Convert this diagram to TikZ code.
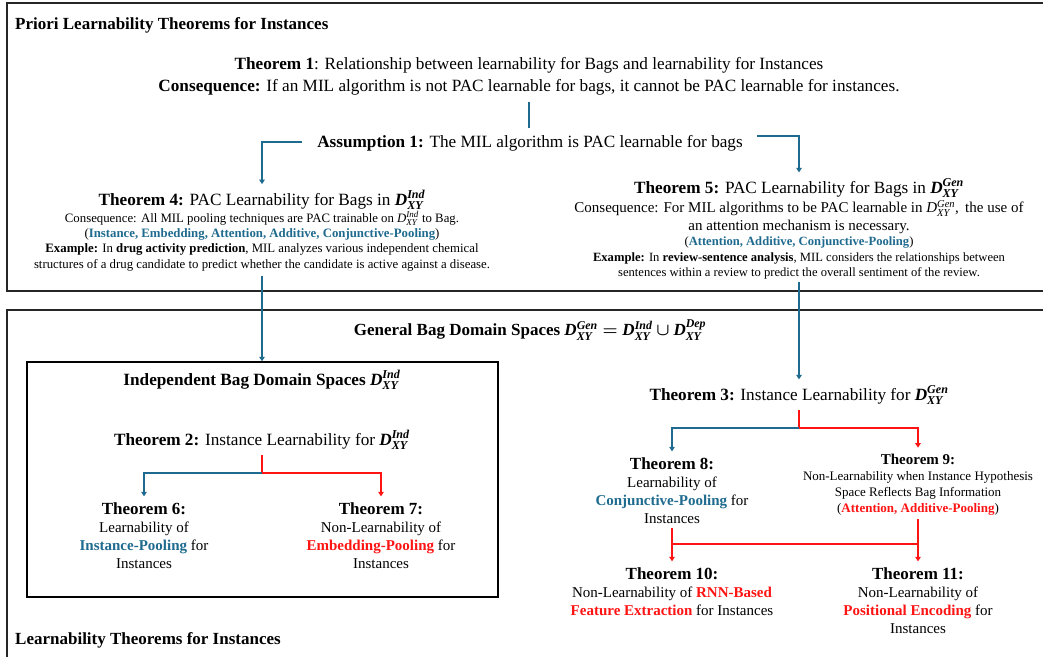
\documentclass[tikz,border=0pt]{standalone}
\usepackage{amsmath}
\usepackage{fontspec}
\setmainfont{Liberation Serif}
\usetikzlibrary{arrows.meta}
\definecolor{mblue}{HTML}{1F6B8F}
\definecolor{mred}{HTML}{FF1414}
\newcommand{\Db}[1]{$\textbf{\textit{D}}^{\textbf{\textit{#1}}}_{\textbf{\textit{XY}}}$}
\newcommand{\Dn}[1]{$\textit{D}^{\textit{#1}}_{\textit{XY}}$}
\begin{document}
\begin{tikzpicture}[x=1pt,y=-1pt,
  frame/.style={line width=1.6pt,draw=black!85},
  con/.style={line width=1.5pt},
  arr/.style={-{Triangle[width=5.5pt,length=4.5pt]}},
  txt/.style={align=center,inner sep=1pt},
  f165/.style={font=\fontsize{17.2}{22}\selectfont},
  sect/.style={font=\fontsize{17}{18}\selectfont\bfseries,anchor=west,inner sep=0pt},
  thm/.style={txt,font=\fontsize{15}{18}\selectfont},
]
\clip (0,0) rectangle (1043,656);
\fill[white] (0,0) rectangle (1043,656);
\draw[frame] (7,3) rectangle (1070,291);
\draw[frame] (7,310) rectangle (1070,690);

% top section
\node[sect] (sec1) at (15,25) {Priori Learnability Theorems for Instances};
\node[txt,f165] (t1) at (529,76) {\textbf{Theorem 1}: Relationship between learnability for Bags and learnability for Instances\\
\textbf{Consequence:} If an MIL algorithm is not PAC learnable for bags, it cannot be PAC learnable for instances.};
\node[txt,f165] (a1) at (530,143) {\textbf{Assumption 1:} The MIL algorithm is PAC learnable for bags};
\draw[con,mblue,shorten <=6pt,shorten >=6pt] (t1.south) -- (t1.south |- a1.north);

\node[txt,f165] (t4) at (262,200) {\textbf{Theorem 4:} PAC Learnability for Bags in \Db{Ind}};
\node[txt,font=\fontsize{12.8}{15.3}\selectfont] (t4b) at (262,241) {Consequence: All MIL pooling techniques are PAC trainable on \Dn{Ind} to Bag.\\
(\textcolor{mblue}{\textbf{Instance, Embedding, Attention, Additive, Conjunctive-Pooling}})\\
\textbf{Example:} In \textbf{drug activity prediction}, MIL analyzes various independent chemical\\
structures of a drug candidate to predict whether the candidate is active against a disease.};

\node[txt,f165] (t5) at (799,188) {\textbf{Theorem 5:} PAC Learnability for Bags in \Db{Gen}};
\node[txt,font=\fontsize{15}{18}\selectfont] (t5c) at (799,217) {Consequence: For MIL algorithms to be PAC learnable in \Dn{Gen},\, the use of\\
an attention mechanism is necessary.};
\node[txt,font=\fontsize{12.6}{15.5}\selectfont] (t5b) at (799,258) {(\textcolor{mblue}{\textbf{Attention, Additive, Conjunctive-Pooling}})\\
\textbf{Example:} In \textbf{review-sentence analysis}, MIL considers the relationships between\\
sentences within a review to predict the overall sentiment of the review.};

\draw[con,mblue,arr,shorten >=5pt] ([xshift=-14pt,yshift=1pt]a1.west) -| (t4.north);
\draw[con,mblue,arr,shorten >=5pt] ([shift={(13,-7)}]a1.east) -| (t5.north);

% bottom section
\node[txt,font=\fontsize{17}{20}\selectfont\bfseries] (gen) at (530,330) {General Bag Domain Spaces $\textbf{\textit{D}}^{\textbf{\textit{Gen}}}_{\textbf{\textit{XY}}}\boldsymbol{=}\textbf{\textit{D}}^{\textbf{\textit{Ind}}}_{\textbf{\textit{XY}}}\boldsymbol{\cup}\textbf{\textit{D}}^{\textbf{\textit{Dep}}}_{\textbf{\textit{XY}}}$};
\node[draw,line width=1.5pt,minimum width=471pt,minimum height=235pt,inner sep=0pt] (ind) at (262.5,479.5) {};
\node[txt,font=\fontsize{17.2}{20}\selectfont\bfseries] (indt) at (262,380) {Independent Bag Domain Spaces \Db{Ind}};
\draw[con,mblue,arr,shorten <=4pt] (t4b.south) -- (t4b.south |- ind.north);

\node[txt,f165] (t2) at (262,440) {\textbf{Theorem 2:} Instance Learnability for \Db{Ind}};
\coordinate (b2) at (262,473);
\node[thm] (t6) at (144,535.5) {{\fontsize{17}{18}\selectfont\bfseries Theorem 6:}\\Learnability of\\\textcolor{mblue}{\textbf{Instance-Pooling}} for\\Instances};
\node[thm] (t7) at (381,535.5) {{\fontsize{17}{18}\selectfont\bfseries Theorem 7:}\\Non-Learnability of\\\textcolor{mred}{\textbf{Embedding-Pooling}} for\\Instances};
\draw[con,mred,shorten <=4pt] (t2.south) -- (b2);
\draw[con,mblue,arr,shorten >=5pt] (b2) -| (t6.north);
\draw[con,mred,arr,shorten >=5pt] (b2) -| (t7.north);

\node[txt,f165] (t3) at (799,395) {\textbf{Theorem 3:} Instance Learnability for \Db{Gen}};
\draw[con,mblue,arr,shorten <=2pt,shorten >=5pt] (t5b.south) -- (t5b.south |- t3.north);
\coordinate (b3) at (799,428);
\node[thm] (t8) at (672,490.5) {{\fontsize{17}{18}\selectfont\bfseries Theorem 8:}\\Learnability of\\\textcolor{mblue}{\textbf{Conjunctive-Pooling}} for\\Instances};
\node[txt,font=\fontsize{13}{16}\selectfont] (t9) at (918,484.5) {{\fontsize{15}{16}\selectfont\bfseries Theorem 9:}\\Non-Learnability when Instance Hypothesis\\Space Reflects Bag Information\\(\textcolor{mred}{\textbf{Attention, Additive-Pooling}})};
\draw[con,mred,shorten <=4pt] (t3.south) -- (b3);
\draw[con,mblue,arr,shorten >=5pt] (b3) -| (t8.north);
\draw[con,mred,arr,shorten >=5pt] (b3) -| (t9.north);

\node[thm] (t10) at (672,591.5) {{\fontsize{17}{18}\selectfont\bfseries Theorem 10:}\\Non-Learnability of \textcolor{mred}{\textbf{RNN-Based}}\\\textcolor{mred}{\textbf{Feature Extraction}} for Instances};
\node[thm] (t11) at (918,600.5) {{\fontsize{17}{18}\selectfont\bfseries Theorem 11:}\\Non-Learnability of\\\textcolor{mred}{\textbf{Positional Encoding}} for\\Instances};
\coordinate (m8) at (672,544);
\coordinate (m9) at (918,544);
\draw[con,mred,arr,shorten <=3pt,shorten >=5pt] (t8.south) -- (t10.north);
\draw[con,mred,arr,shorten <=3pt,shorten >=5pt] (t9.south) -- (t11.north);
\draw[con,mred] (m8) -- (m9);

\node[sect] (sec2) at (15,640) {Learnability Theorems for Instances};
\end{tikzpicture}
\end{document}
